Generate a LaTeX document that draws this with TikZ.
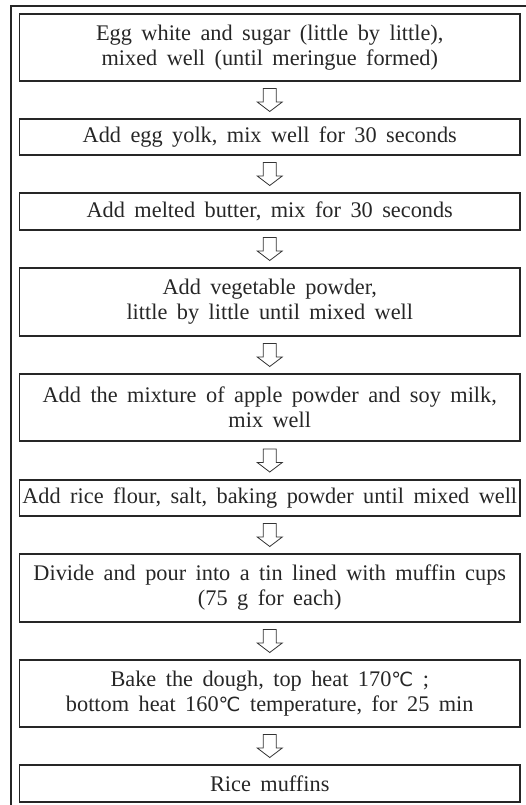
\documentclass[tikz,border=0pt]{standalone}
\usepackage{fontspec}
\setmainfont[WordSpace=1.7]{Liberation Serif}
\newfontfamily\degfont{DejaVu Sans}
\usetikzlibrary{calc}
\newcommand{\degC}{{\degfont\fontsize{19.5}{25}\selectfont\char"2103}}
% hollow down arrow between two steps
\newcommand{\flowarrow}[2]{%
  \path ($(#1.south)!.5!(#2.north)$) coordinate (mid);
  \draw[arrowline] ($(mid)+(-6.5,11.5)$) -- ++(0,-13.5) -- ++(-6,0)
    -- ($(mid)+(0,-11.5)$) -- ($(mid)+(12.5,-2)$) -- ++(-6,0) -- ++(0,13.5) -- cycle;
}
\begin{document}
\begin{tikzpicture}[x=1pt,y=1pt,
    stepbox/.style={draw=black!85,line width=1.1pt,rectangle,inner sep=0pt,
      minimum width=500.5pt,align=center,text=black!85,
      font=\fontsize{22.3}{25}\selectfont},
    arrowline/.style={draw=black!80,line width=0.8pt,fill=white}]
	\clip (0,0) rectangle (526,-805);
	\draw[black!85,line width=1.1pt] (11,-820) -- (11,-6) -- (540,-6);
	\node[stepbox,minimum height=67pt] (s1) at (269.75,-47.5)
		{Egg white and sugar (little by little),\\mixed well (until meringue formed)};
	\node[stepbox,minimum height=36pt] (s2) at (269.75,-137)
		{Add egg yolk, mix well for 30 seconds};
	\node[stepbox,minimum height=37pt] (s3) at (269.75,-211.5)
		{Add melted butter, mix for 30 seconds};
	\node[stepbox,minimum height=68pt] (s4) at (269.75,-302)
		{Add vegetable powder,\\little by little until mixed well};
	\node[stepbox,minimum height=67pt] (s5) at (269.75,-407.5)
		{Add the mixture of apple powder and soy milk,\\mix well};
	\node[stepbox,minimum height=36pt] (s6) at (269.75,-498)
		{Add rice flour, salt, baking powder until mixed well};
	\node[stepbox,minimum height=68pt] (s7) at (269.75,-588)
		{Divide and pour into a tin lined with muffin cups\\(75 g for each)};
	\node[stepbox,minimum height=67pt] (s8) at (269.75,-693.5)
		{Bake the dough, top heat 170\degC\ ;\\bottom heat 160\degC\ temperature, for 25 min};
	\node[stepbox,minimum height=37pt] (s9) at (269.75,-783.5)
		{Rice muffins};
	\foreach \a/\b in {s1/s2,s2/s3,s3/s4,s4/s5,s5/s6,s6/s7,s7/s8,s8/s9}
		\flowarrow{\a}{\b};
\end{tikzpicture}
\end{document}
